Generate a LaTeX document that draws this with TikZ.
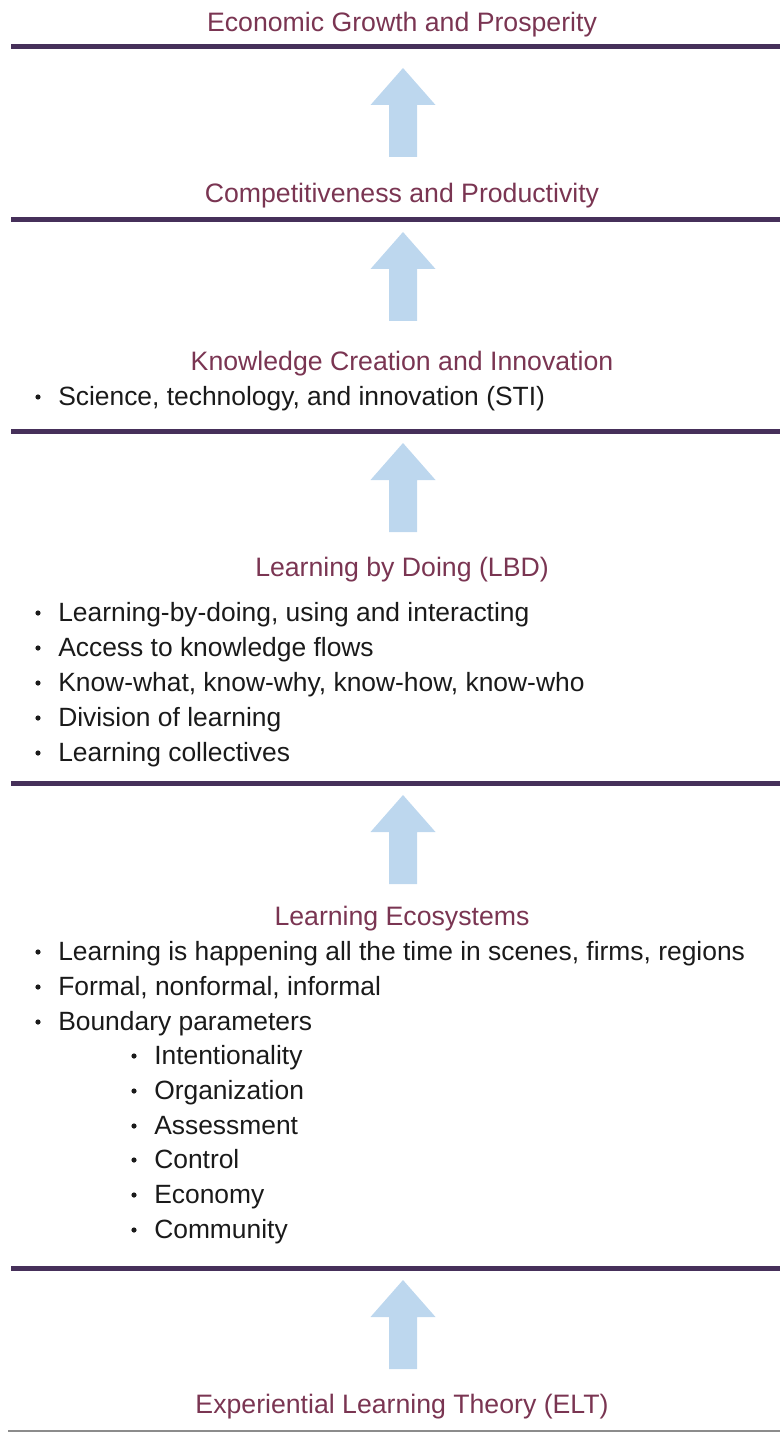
\documentclass[tikz,border=0pt]{standalone}
\usepackage{fontspec}
\setmainfont{Liberation Sans}
\usepackage{xcolor}

\definecolor{titlered}{HTML}{7A3552}
\definecolor{barpurple}{HTML}{46305A}
\definecolor{arrowblue}{HTML}{BDD7EE}
\definecolor{textblack}{HTML}{1A1A1A}

\begin{document}
\begin{tikzpicture}[x=0.75pt, y=-0.75pt]
        % ================= styles =================
        \tikzset{
            title/.style={anchor=base, yshift=-5.25pt, text=titlered, inner sep=0pt, font=\fontsize{20pt}{24pt}\selectfont},
            item/.style={anchor=base west, yshift=-6pt, text=textblack, inner sep=0pt, font=\fontsize{19.8pt}{24pt}\selectfont},
            dot/.style={circle, fill=textblack, minimum size=3.9pt, inner sep=0pt},
            bar/.style={barpurple, line width=3.75pt},
            thinbar/.style={black!45, line width=0.9pt},
            uparrow/.style={fill=arrowblue}
        }

        \useasboundingbox (0,0) rectangle (780,1433);

        % ================= titles =================
        \node[title] (eco)  at (402,25)   {Economic Growth and Prosperity};
        \node[title] (comp) at (402,196)  {Competitiveness and Productivity};
        \node[title] (know) at (402,364)  {Knowledge Creation and Innovation};
        \node[title] (lbd)  at (402,569)  {Learning by Doing (LBD)};
        \node[title] (ecos) at (402,918)  {Learning Ecosystems};
        \node[title] (elt)  at (402,1406) {Experiential Learning Theory (ELT)};

        % ================= separator bars =================
        \coordinate (l1) at (11,47);   \coordinate (r1) at (780,47);
        \coordinate (l2) at (11,220);  \coordinate (r2) at (780,220);
        \coordinate (l3) at (11,431);  \coordinate (r3) at (780,431);
        \coordinate (l4) at (11,783);  \coordinate (r4) at (780,783);
        \coordinate (l5) at (11,1268); \coordinate (r5) at (780,1268);
        \coordinate (l6) at (8,1431);  \coordinate (r6) at (780,1431);
        \foreach \i in {1,...,5}
            \draw[bar] (l\i) -- (r\i);
        \draw[thinbar] (l6) -- (r6);

        % ================= block arrows (tip y) =================
        \foreach \t in {68,232,443,795,1280}
            \fill[uparrow] (403,\t) -- (435.5,\t+37) -- (417,\t+37) -- (417,\t+89)
                -- (389,\t+89) -- (389,\t+37) -- (370.5,\t+37) -- cycle;

        % ================= bullets: knowledge creation =================
        \node[dot]  (k1) at (38,397) {};
        \node[item] (kt1) at (58,397) {Science, technology, and innovation (STI)};

        % ================= bullets: learning by doing =================
        \foreach \y/\txt [count=\n] in {613/{Learning-by-doing, using and interacting},
                                         648/{Access to knowledge flows},
                                         683/{Know-what, know-why, know-how, know-who},
                                         718/{Division of learning},
                                         753/{Learning collectives}} {
            \node[dot]  (d\n) at (38,\y) {};
            \node[item] (dt\n) at (58,\y) {\txt};
        }

        % ================= bullets: learning ecosystems =================
        \foreach \y/\txt [count=\n] in {952/{Learning is happening all the time in scenes, firms, regions},
                                         987/{Formal, nonformal, informal},
                                         1022/{Boundary parameters}} {
            \node[dot]  (e\n) at (38,\y) {};
            \node[item] (et\n) at (58,\y) {\txt};
        }
        % boundary parameters, one level in
        \foreach \y/\txt [count=\n] in {1056/Intentionality, 1091/Organization, 1126/Assessment,
                                         1160/Control, 1195/Economy, 1230/Community} {
            \node[dot]  (p\n) at (134,\y) {};
            \node[item] (pt\n) at (154,\y) {\txt};
        }

    \end{tikzpicture}
\end{document}
